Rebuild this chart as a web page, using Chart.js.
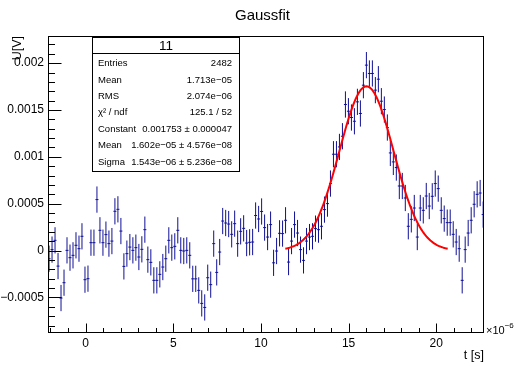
<!DOCTYPE html>
<html>
<head>
<meta charset="utf-8">
<script src="https://cdn.jsdelivr.net/npm/chart.js@4/dist/chart.umd.min.js"></script>
<style>
  html, body { margin: 0; padding: 0; background: #fff; }
  #wrap { width: 518px; height: 366px; }
</style>
</head>
<body>
<div id="wrap"><canvas id="c" width="518" height="366"></canvas></div>
<script>
// Histogram bins (time axis in units of 1e-6 s)
const binStart = -2.08;    // centre of the first bin
const binWidth = 0.1707;   // bin width

// Bin contents U [V]
const voltage = [
  -0.000087, 0.000010, 0.000109, -0.000166, -0.000507, -0.000343, 0.000002, -0.000076,
  -0.000051, 0.000056, 0.000020, 0.000152, -0.000311, -0.000300, 0.000084, 0.000084,
  0.000544, 0.000216, 0.000084, 0.000170, 0.000074, 0.000101, 0.000419, 0.000440,
  0.000208, -0.000169, -0.000033, 0.000037, 0.000002, 0.000031, -0.000069, 0.000013,
  0.000223, -0.000097, -0.000126, -0.000318, -0.000318, -0.000254, -0.000176, -0.000087,
  0.000109, 0.000031, 0.000045, 0.000216, 0.000002, -0.000005, 0.000002, -0.000051,
  -0.000302, -0.000302, -0.000425, -0.000564, -0.000607, -0.000290, -0.000364, 0.000074,
  -0.000233, -0.000016, 0.000315, 0.000294, 0.000283, 0.000173, 0.000287, 0.000074,
  0.000205, 0.000237, 0.000080, 0.000088, 0.000091, 0.000374, 0.000337, 0.000417,
  0.000245, 0.000144, 0.000277, -0.000131, -0.000005, 0.000184, 0.000181, 0.000323,
  -0.000123, 0.000101, 0.000277, 0.000187, 0.000010, -0.000105, 0.000101, 0.000144,
  0.000152, 0.000234, 0.000223, 0.000259, 0.000437, 0.000501, 0.000715, 0.001028,
  0.001028, 0.001106, 0.001220, 0.001559, 0.001487, 0.001420, 0.001380, 0.001587,
  0.001463, 0.001765, 0.001979, 0.001890, 0.001890, 0.001712, 0.001829, 0.001594,
  0.001505, 0.001313, 0.001042, 0.000946, 0.000886, 0.000689, 0.000689, 0.000561,
  0.000259, 0.000333, 0.000454, 0.000144, 0.000454, 0.000429, 0.000582, 0.000475,
  0.000579, 0.000715, 0.000661, 0.000429, 0.000341, 0.000298, 0.000298, 0.000173,
  0.000091, 0.000020, -0.000318, 0.000010, 0.000187, 0.000323, 0.000494, 0.000600,
  0.000614, 0.000384
];
const voltageError = 0.00014;

// Gaussian fit result
const fitConstant = 0.001753, fitConstantErr = 0.000047;
const fitMean = 1.602e-05,    fitMeanErr = 4.576e-08;
const fitSigma = 1.543e-06,   fitSigmaErr = 5.236e-08;

// Axis ticks
const xTicks = [0, 5, 10, 15, 20];
const xTickLabels = ['0', '5', '10', '15', '20'];
const yTicks = [-0.0005, 0, 0.0005, 0.001, 0.0015, 0.002];
const yTickLabels = ['\u22120.0005', '0', '0.0005', '0.001', '0.0015', '0.002'];

// Statistics box
const statsTitle = '11';
const statsRowsTop = [
  ['Entries', '2482'],
  ['Mean', '1.713e\u221205'],
  ['RMS', '2.074e\u221206'],
  ['\u03c7\u00b2 / ndf', '125.1 / 52']
];

function sci(v) {
  const [m, e] = v.toExponential(3).split('e');
  const n = parseInt(e, 10);
  return m + 'e' + (n < 0 ? '\u2212' : '+') + String(Math.abs(n)).padStart(2, '0');
}

const FONT = '"Liberation Sans", Arial, Helvetica, sans-serif';

const points = voltage.map((v, i) => ({ x: binStart + i * binWidth, y: v }));

// Fit curve over mean ± 3 sigma (x in 1e-6 s)
const muUs = fitMean * 1e6, sigUs = fitSigma * 1e6;
const fitCurve = [];
for (let k = 0; k <= 160; k++) {
  const x = muUs - 3 * sigUs + (6 * sigUs) * k / 160;
  fitCurve.push({ x, y: fitConstant * Math.exp(-0.5 * Math.pow((x - muUs) / sigUs, 2)) });
}

const frameAndErrors = {
  id: 'frameAndErrors',
  beforeDatasetsDraw(chart) {
    const { ctx, chartArea: a, scales: { x, y } } = chart;
    ctx.save();
    ctx.beginPath();
    ctx.rect(a.left, a.top, a.right - a.left, a.bottom - a.top);
    ctx.clip();
    ctx.strokeStyle = 'rgb(16,16,150)';
    ctx.lineWidth = 1;
    const halfW = (x.getPixelForValue(binWidth) - x.getPixelForValue(0)) / 2;
    ctx.beginPath();
    points.forEach(p => {
      const px = x.getPixelForValue(p.x);
      const py = y.getPixelForValue(p.y);
      const yt = y.getPixelForValue(p.y + voltageError);
      const yb = y.getPixelForValue(p.y - voltageError);
      ctx.moveTo(px, yt); ctx.lineTo(px, yb);
      ctx.moveTo(px - halfW, py); ctx.lineTo(px + halfW, py);
    });
    ctx.stroke();
    ctx.restore();
  },
  afterDraw(chart) {
    const { ctx, chartArea: a, scales: { x, y } } = chart;
    ctx.save();
    // frame
    ctx.strokeStyle = '#000';
    ctx.lineWidth = 1;
    ctx.strokeRect(a.left + 0.5, a.top + 0.5, a.right - a.left - 1, a.bottom - a.top - 1);

    // y ticks (inward)
    const L = a.left + 0.5;
    ctx.beginPath();
    for (let k = -8; k <= 22; k++) {
      const v = k * 0.0001;
      const py = Math.round(y.getPixelForValue(v)) + 0.5;
      if (py < a.top || py > a.bottom) continue;
      const len = (k % 5 === 0) ? 13 : 6.5;
      ctx.moveTo(L, py); ctx.lineTo(L + len, py);
    }
    // x ticks (inward)
    const B = a.bottom - 0.5;
    for (let k = -2; k <= 22; k++) {
      const px = Math.round(x.getPixelForValue(k)) + 0.5;
      if (px < a.left || px > a.right) continue;
      const len = (k % 5 === 0) ? 9 : 4.5;
      ctx.moveTo(px, B); ctx.lineTo(px, B - len);
    }
    ctx.stroke();

    // tick labels
    ctx.fillStyle = '#000';
    ctx.font = '12px ' + FONT;
    ctx.textAlign = 'right';
    ctx.textBaseline = 'middle';
    yTicks.forEach((v, i) => ctx.fillText(yTickLabels[i], a.left - 4, y.getPixelForValue(v)));
    ctx.textAlign = 'center';
    ctx.textBaseline = 'alphabetic';
    xTicks.forEach((v, i) => ctx.fillText(xTickLabels[i], x.getPixelForValue(v), a.bottom + 14));

    // exponent of the x axis
    ctx.textAlign = 'left';
    ctx.font = '11px ' + FONT;
    ctx.fillText('\u00d710', a.right + 2, a.bottom + 1);
    const w = ctx.measureText('\u00d710').width;
    ctx.font = '8px ' + FONT;
    ctx.fillText('\u22126', a.right + 2 + w, a.bottom - 5);

    // axis titles
    ctx.font = '12.5px ' + FONT;
    ctx.textAlign = 'right';
    ctx.fillText('t [s]', a.right, a.bottom + 26);
    ctx.save();
    ctx.translate(20.5, a.top);
    ctx.rotate(-Math.PI / 2);
    ctx.textAlign = 'right';
    ctx.fillText('U[V]', 0, 0);
    ctx.restore();

    // title
    ctx.font = '15px ' + FONT;
    ctx.textAlign = 'center';
    ctx.fillText('Gaussfit', 262.5, 19.5);

    // statistics box
    const bx = 92.5, by = 37.5, bw = 147, bh = 134;
    ctx.fillStyle = '#fff';
    ctx.fillRect(bx, by, bw, bh);
    ctx.strokeRect(bx, by, bw, bh);
    ctx.beginPath();
    ctx.moveTo(bx, by + 16); ctx.lineTo(bx + bw, by + 16);
    ctx.stroke();
    ctx.fillStyle = '#000';
    ctx.font = '13.5px ' + FONT;
    ctx.textAlign = 'center';
    ctx.textBaseline = 'middle';
    ctx.fillText(statsTitle, bx + bw / 2, by + 8.5);

    const rows = statsRowsTop.concat([
      ['Constant', fitConstant.toFixed(6) + ' \u00b1 ' + fitConstantErr.toFixed(6)],
      ['Mean', sci(fitMean) + ' \u00b1 ' + sci(fitMeanErr)],
      ['Sigma', sci(fitSigma) + ' \u00b1 ' + sci(fitSigmaErr)]
    ]);
    ctx.font = '9.5px ' + FONT;
    rows.forEach((r, i) => {
      const ry = 63.5 + i * 16.4;
      ctx.textAlign = 'left';
      ctx.fillText(r[0], 98, ry);
      ctx.textAlign = 'right';
      ctx.fillText(r[1], 232, ry);
    });
    ctx.restore();
  }
};

new Chart(document.getElementById('c'), {
  data: {
    datasets: [
      {
        type: 'line',
        label: 'gaus',
        data: fitCurve,
        borderColor: '#ff0000',
        borderWidth: 2,
        pointRadius: 0,
        tension: 0,
        fill: false
      },
      {
        type: 'scatter',
        label: 'U',
        data: points,
        pointRadius: 0,
        showLine: false
      }
    ]
  },
  options: {
    responsive: false,
    animation: false,
    devicePixelRatio: 1,
    layout: { padding: { left: 48, right: 34, top: 36, bottom: 33 } },
    plugins: { legend: { display: false }, title: { display: false }, tooltip: { enabled: false } },
    scales: {
      x: { type: 'linear', min: -2.14, max: 22.72, display: false },
      y: { type: 'linear', min: -0.00088, max: 0.00229, display: false }
    }
  },
  plugins: [frameAndErrors]
});
</script>
</body>
</html>
